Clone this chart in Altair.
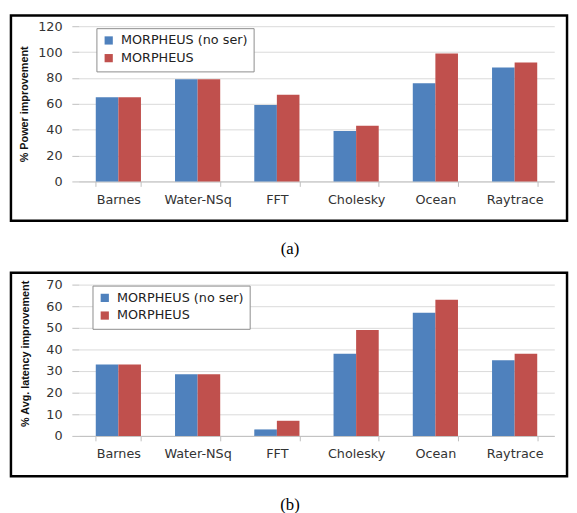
import altair as alt
import pandas as pd

benchmarks = ["Barnes", "Water-NSq", "FFT", "Cholesky", "Ocean", "Raytrace"]
series = ["MORPHEUS (no ser)", "MORPHEUS"]
power_noser = [65, 79, 59, 39, 76, 88]
power_full = [65, 79, 67, 43, 99, 92]
latency_noser = [33, 28.5, 3, 38, 57, 35]
latency_full = [33, 28.5, 7, 49, 63, 38]
colors = ["#4F81BD", "#C0504D"]


def long_df(a, b):
    rows = []
    for i, bm in enumerate(benchmarks):
        rows.append({"bench": bm, "series": series[0], "value": a[i]})
        rows.append({"bench": bm, "series": series[1], "value": b[i]})
    return pd.DataFrame(rows)


def panel(df, W, H, ymax, ystep, ytitle, tx, ty, lx, ly, box, cap, capxy):
    base = alt.Chart(df)
    bars = base.mark_bar(size=23).encode(
        x=alt.X("bench:N", sort=benchmarks,
                scale=alt.Scale(paddingInner=0.43, paddingOuter=0.215),
                axis=alt.Axis(title=None, labelAngle=0, tickBand="extent",
                              domainColor="#BFBFBF", tickColor="#BFBFBF",
                              tickSize=5, labelPadding=7, grid=False,
                              labelFont="DejaVu Sans", labelFontSize=13,
                              labelColor="#333333")),
        xOffset=alt.XOffset("series:N", sort=series, scale=alt.Scale(paddingInner=0, paddingOuter=0)),
        y=alt.Y("value:Q", scale=alt.Scale(domain=[0, ymax], nice=False),
                axis=alt.Axis(values=list(range(0, ymax + 1, ystep)), title=ytitle,
                              domain=False, tickColor="#BFBFBF", tickSize=7,
                              labelPadding=10, gridColor="#D9D9D9",
                              labelFont="DejaVu Sans", labelFontSize=13,
                              labelColor="#333333",
                              titleFont="Liberation Sans", titleFontSize=11,
                              titleFontWeight="bold", titleColor="#111111",
                              titleAngle=-90, titleX=tx, titleY=ty,
                              titleAlign="center", titleBaseline="middle")),
        color=alt.Color("series:N", sort=series,
                        scale=alt.Scale(domain=series, range=colors),
                        legend=alt.Legend(orient="none", legendX=lx, legendY=ly,
                                          title=None, symbolType="square",
                                          symbolSize=70, symbolStrokeWidth=0,
                                          labelFont="DejaVu Sans", labelFontSize=13,
                                          labelColor="#222222",
                                          strokeColor="#8C8C8C", fillColor="white",
                                          padding=6, rowPadding=4, labelOffset=6)),
    )
    one = pd.DataFrame({"k": [0]})
    border = alt.Chart(one).mark_rect(fill=None, stroke="black", strokeWidth=2.5).encode(
        x=alt.value(box[0]), x2=alt.value(box[1]), y=alt.value(box[2]), y2=alt.value(box[3])
    )
    label = alt.Chart(pd.DataFrame({"t": [cap]})).mark_text(
        font="Liberation Serif", fontSize=17, color="black", baseline="middle", align="center"
    ).encode(text="t:N", x=alt.value(capxy[0]), y=alt.value(capxy[1]))
    return alt.layer(border, bars, label).properties(width=W, height=H)


top = panel(long_df(power_noser, power_full), 484, 158, 120, 20,
            "% Power improvement", -55, 79, 18, 2,
            (-69, 497, -11, 198), "(a)", (215, 227))
bottom = panel(long_df(latency_noser, latency_full), 484, 154, 70, 10,
               "% Avg. latency improvement", -54, 70, 14, 1,
               (-69, 497, -12, 195), "(b)", (215, 224))

chart = alt.vconcat(top, bottom, spacing=105, bounds="flush").resolve_scale(
    color="independent"
).resolve_legend(color="independent").properties(
    padding={"left": 1, "top": 1, "right": 0, "bottom": 0}
).configure_view(stroke=None)

chart.save("out.html", embed_options={"renderer": "svg", "actions": False})
